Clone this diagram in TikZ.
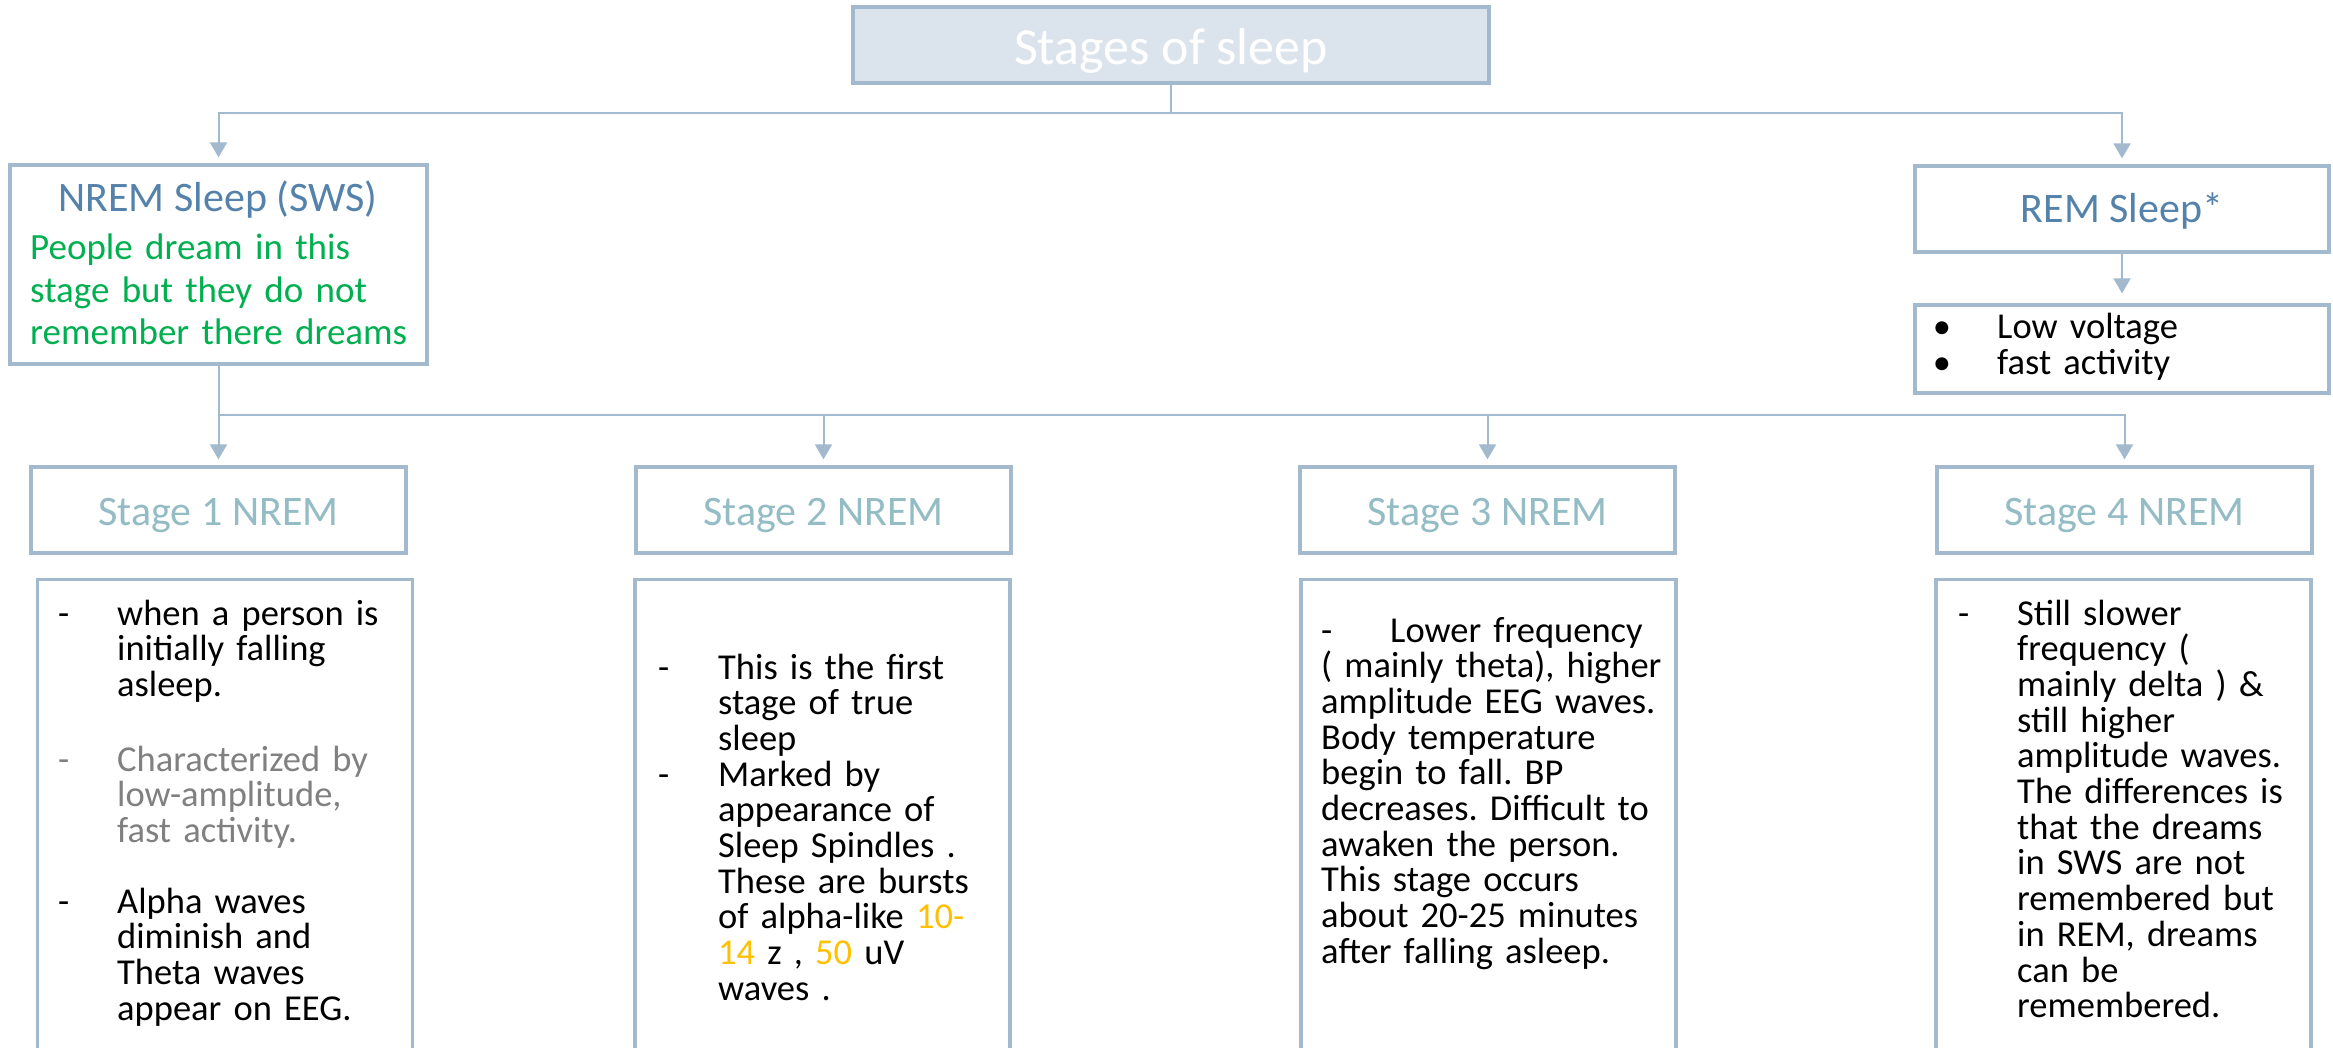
\documentclass[tikz,border=0pt]{standalone}
\usepackage{fontspec}
\setmainfont{Carlito}
\usetikzlibrary{arrows.meta}
\definecolor{lineblue}{RGB}{162,185,206}
\definecolor{titlefill}{RGB}{219,228,237}
\definecolor{nremblue}{RGB}{84,130,170}
\definecolor{stagecol}{RGB}{148,188,197}
\definecolor{dreamgreen}{RGB}{0,176,80}
\definecolor{notegray}{RGB}{128,128,128}
\definecolor{orng}{RGB}{255,192,0}
\newcommand\myfs[2]{\fontsize{#1}{#2}\selectfont}
\frenchspacing
\begin{document}
\begin{tikzpicture}[x=1pt,y=-1pt,
  box/.style={draw=lineblue, line width=3.3pt, inner sep=0pt},
  stagebox/.style={box, minimum width=375pt, minimum height=86pt, text height=30pt, text depth=0pt, text=stagecol, font=\myfs{42}{50}},
  detailbox/.style={box, minimum width=375pt, minimum height=600pt, anchor=north},
  conn/.style={draw=lineblue, line width=2pt},
  arr/.style={conn, -{Triangle[length=15pt,width=17pt]}, shorten >=6pt},
  para/.style={anchor=base west, inner sep=0pt, text width=400pt, align=left, font=\myfs{36.5}{35.7}},
  dashn/.style={anchor=base west, inner sep=0pt, font=\myfs{36.5}{35.7}}]
\useasboundingbox (0,0) rectangle (2333,1048);
\clip (0,0) rectangle (2333,1048);
\fill[white] (0,0) rectangle (2333,1048);

% boxes
\node[box, fill=titlefill, minimum width=636pt, minimum height=76pt, text height=40pt, text depth=0pt, text=white, font=\myfs{52}{60}] (title) at (1171,45) {Stages of sleep};
\node[box, minimum width=417pt, minimum height=199pt] (nrem) at (218.5,264.5) {};
\node[box, minimum width=414pt, minimum height=86pt, text height=28pt, text depth=0pt, text=nremblue, font=\myfs{42}{50}] (rem) at (2122,209) {REM Sleep*};
\node[box, minimum width=414pt, minimum height=88pt] (bul) at (2122,349) {};

\node[stagebox] (s1) at (218.5,510) {Stage 1 NREM};
\node[stagebox] (s2) at (823.5,510) {Stage 2 NREM};
\node[stagebox] (s3) at (1487.5,510) {Stage 3 NREM};
\node[stagebox] (s4) at (2124.5,510) {Stage 4 NREM};

\node[detailbox] (d1) at (225,578) {};
\node[detailbox] (d2) at (822.5,578) {};
\node[detailbox] (d3) at (1488.5,578) {};
\node[detailbox] (d4) at (2123.5,578) {};

% connectors
\coordinate (j1) at (1171,113);
\draw[conn] (title.south) -- (j1);
\draw[arr] (j1) -| (nrem.north);
\draw[arr] (j1) -| (rem.north);
\draw[arr, shorten >=10pt] (rem.south) -- (bul.north);
\coordinate (j2) at (218.5,415);
\draw[conn] (nrem.south) -- (j2);
\draw[arr] (j2) -- (s1.north);
\draw[arr] (j2) -| (s2.north);
\draw[arr] (j2) -| (s3.north);
\draw[arr] (j2) -| (s4.north);

% NREM text
\node[anchor=base, inner sep=0pt, text=nremblue, font=\myfs{42}{50}] (nremt) at (218,212) {NREM Sleep (SWS)};
\node[para, text=dreamgreen, font=\myfs{37}{42.5}] (nremd) at (30,260) {People dream in this\\stage but they do not\\remember there dreams};

% REM bullets
\node[anchor=base, inner sep=0pt, font=\myfs{36.5}{36}] (b1) at (1942,338) {•};
\node[anchor=base, inner sep=0pt, font=\myfs{36.5}{36}] (b2) at (1942,374) {•};
\node[para, font=\myfs{36.5}{36}] (bt) at (1997,338) {Low voltage\\fast activity};

% Stage 1
\node[dashn] (d1a) at (58,625) {-};
\node[para] (t1a) at (117,625) {when a person is\\initially falling\\asleep.};
\node[dashn, text=notegray] (d1b) at (58,771) {-};
\node[para, text=notegray] (t1b) at (117,771) {Characterized by\\low-amplitude,\\fast activity.};
\node[dashn] (d1c) at (58,913) {-};
\node[para] (t1c) at (117,913) {Alpha waves\\diminish and\\Theta waves\\appear on EEG.};

% Stage 2
\node[dashn] (d2a) at (658,679) {-};
\node[dashn] (d2b) at (658,786.1) {-};
\node[para] (t2) at (718,679) {This is the first\\stage of true\\sleep\\Marked by\\appearance of\\Sleep Spindles .\\These are bursts\\of alpha-like \textcolor{orng}{10-}\\\textcolor{orng}{14} z , \textcolor{orng}{50} uV\\waves .};

% Stage 3
\node[para] (t3) at (1321,642) {\makebox[69pt][l]{-}Lower frequency\\( mainly theta), higher\\amplitude EEG waves.\\Body temperature\\begin to fall. BP\\decreases. Difficult to\\awaken the person.\\This stage occurs\\about 20-25 minutes\\after falling asleep.};

% Stage 4
\node[dashn] (d4a) at (1958,625) {-};
\node[para] (t4) at (2017,625) {Still slower\\frequency (\\mainly delta ) \&\\still higher\\amplitude waves.\\The differences is\\that the dreams\\in SWS are not\\remembered but\\in REM, dreams\\can be\\remembered.};
\end{tikzpicture}
\end{document}
